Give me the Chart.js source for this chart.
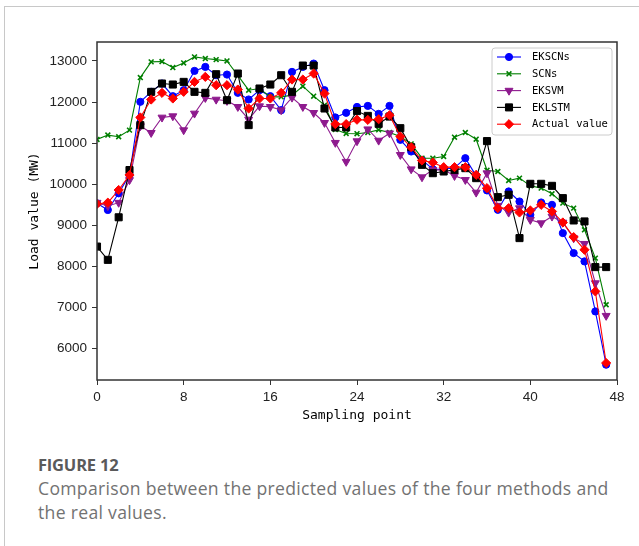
<!DOCTYPE html>
<html>
<head>
<meta charset="utf-8">
<script src="https://cdn.jsdelivr.net/npm/chart.js@4.4.0/dist/chart.umd.min.js"></script>
<style>
  html, body { margin: 0; padding: 0; background: #fff; }
  body { width: 639px; height: 546px; position: relative; overflow: hidden; }
  #card { position: absolute; left: 4px; top: 6px; width: 660px; height: 560px;
          border-left: 1px solid #c8c8c8; border-top: 1px solid #c8c8c8; }
  #cv { position: absolute; left: 0; top: 0; }
  #figlabel { position: absolute; left: 38px; top: 453px; font-family: "Open Sans", sans-serif;
              font-weight: 700; font-size: 16.5px; color: #5a5a5a; letter-spacing: -0.2px; }
  #caption { position: absolute; left: 38px; top: 476px; width: 596px; font-family: "Open Sans", sans-serif;
             font-size: 17.6px; line-height: 24px; letter-spacing: 0.3px; color: #727272; }
</style>
</head>
<body>
<div id="card"></div>
<canvas id="cv" width="639" height="440"></canvas>
<div id="figlabel">FIGURE 12</div>
<div id="caption">Comparison between the predicted values of the four methods and<br>the real values.</div>
<script>
// ---- data ----
const samplingPoints = [0,1,2,3,4,5,6,7,8,9,10,11,12,13,14,15,16,17,18,19,20,21,22,23,
                        24,25,26,27,28,29,30,31,32,33,34,35,36,37,38,39,40,41,42,43,44,45,46,47];
const ekscns = [9537,9375,9780,10225,12005,12248,12450,12142,12288,12757,12854,12652,
                12668,12223,12062,12288,12142,11803,12733,12854,12935,12288,11625,11738,
                11880,11906,11712,11906,11080,10797,10594,10367,10367,10400,10634,10205,
                9850,9379,9825,9581,9258,9557,9500,8812,8326,8124,6908,5612];
const scns = [11090,11196,11155,11317,12595,12976,12984,12838,12951,13097,13057,13032,
              13000,12650,12288,12329,12126,12126,12167,12385,12142,11924,11333,11236,
              11230,11258,11323,11258,11161,10983,10634,10634,10675,11145,11258,11096,
              10340,10310,10092,10149,9962,9906,9768,9541,9420,8893,8204,7070];
const eksvm = [9553,9472,9553,10104,11414,11252,11625,11657,11317,11722,12102,12061,
               12030,11884,11576,11900,11884,11803,12110,11884,11738,11495,11010,10549,
               11050,11339,11064,11242,10716,10367,10173,10350,10351,10205,10108,9800,
               10270,9480,9314,9420,9136,9055,9217,9071,8690,8553,7597,6803];
const eklstm = [8485,8162,9197,10346,11438,12248,12450,12426,12490,12248,12223,12676,
                12045,12693,11439,12329,12426,12652,12248,12887,12887,11843,11382,11382,
                11780,11663,11469,11647,11364,10902,10473,10270,10311,10351,10392,10149,
                11050,9687,9744,8691,10011,10011,9962,9663,9120,9096,7986,7986];
const actual = [9521,9553,9861,10225,11625,12061,12223,12086,12248,12490,12612,12409,
                12409,12304,11843,12086,12086,12223,12547,12547,12693,12207,11463,11463,
                11570,11566,11582,11679,11161,10902,10578,10529,10416,10416,10416,10230,
                9906,9420,9420,9314,9363,9500,9339,9071,8715,8407,7395,5653];
const xTicks = [0, 8, 16, 24, 32, 40, 48];
const yTicks = [6000, 7000, 8000, 9000, 10000, 11000, 12000, 13000];
const seriesNames = ['EKSCNs', 'SCNs', 'EKSVM', 'EKLSTM', 'Actual value'];

// ---- styles ----
const styles = [
  { color: '#0000ff', pointStyle: 'circle',   radius: 3.6, rotation: 0,   order: 4, bw: 1 },
  { color: '#007f00', pointStyle: 'crossRot', radius: 3.4, rotation: 0,   order: 3, bw: 1.6 },
  { color: '#8e1a8e', pointStyle: 'triangle', radius: 4.6, rotation: 180, order: 2, bw: 1 },
  { color: '#000000', pointStyle: 'rect',     radius: 5.0, rotation: 0,   order: 1, bw: 1 },
  { color: '#ff0000', pointStyle: 'rectRot',  radius: 4.6, rotation: 0,   order: 0, bw: 1 }
];
const allSeries = [ekscns, scns, eksvm, eklstm, actual];

const datasets = allSeries.map((vals, k) => ({
  label: seriesNames[k],
  data: samplingPoints.map((x, i) => ({ x: x, y: vals[i] })),
  borderColor: styles[k].color,
  backgroundColor: styles[k].color,
  borderWidth: 1.1,
  pointStyle: styles[k].pointStyle,
  pointRadius: styles[k].radius,
  pointRotation: styles[k].rotation,
  pointBorderWidth: styles[k].bw,
  pointBackgroundColor: styles[k].color,
  pointBorderColor: styles[k].color,
  tension: 0,
  order: styles[k].order
}));

function drawMarker(ctx, st, x, y) {
  ctx.save();
  ctx.fillStyle = st.color;
  ctx.strokeStyle = st.color;
  ctx.lineWidth = st.bw;
  const r = st.radius;
  ctx.beginPath();
  if (st.pointStyle === 'circle') {
    ctx.arc(x, y, r, 0, Math.PI * 2); ctx.fill(); ctx.stroke();
  } else if (st.pointStyle === 'crossRot') {
    const d = r * Math.SQRT1_2;
    ctx.moveTo(x - d, y - d); ctx.lineTo(x + d, y + d);
    ctx.moveTo(x - d, y + d); ctx.lineTo(x + d, y - d); ctx.stroke();
  } else if (st.pointStyle === 'triangle') {
    ctx.moveTo(x, y + r);
    ctx.lineTo(x - r * 0.866, y - r * 0.5);
    ctx.lineTo(x + r * 0.866, y - r * 0.5);
    ctx.closePath(); ctx.fill(); ctx.stroke();
  } else if (st.pointStyle === 'rect') {
    const s = r * Math.SQRT1_2;
    ctx.rect(x - s, y - s, 2 * s, 2 * s); ctx.fill(); ctx.stroke();
  } else if (st.pointStyle === 'rectRot') {
    ctx.moveTo(x, y - r); ctx.lineTo(x + r, y); ctx.lineTo(x, y + r); ctx.lineTo(x - r, y);
    ctx.closePath(); ctx.fill(); ctx.stroke();
  }
  ctx.restore();
}

const framePlugin = {
  id: 'frame',
  afterDatasetsDraw(chart) {
    const { ctx, chartArea: a } = chart;
    ctx.save();
    ctx.strokeStyle = '#333333';
    ctx.lineWidth = 1.5;
    ctx.strokeRect(a.left, a.top, a.right - a.left, a.bottom - a.top);
    ctx.restore();
  }
};

const legendPlugin = {
  id: 'mplLegend',
  afterDraw(chart) {
    const ctx = chart.ctx;
    const bx = 492, by = 48, bw = 120, bh = 87, rr = 3;
    ctx.save();
    ctx.beginPath();
    ctx.moveTo(bx + rr, by);
    ctx.arcTo(bx + bw, by, bx + bw, by + bh, rr);
    ctx.arcTo(bx + bw, by + bh, bx, by + bh, rr);
    ctx.arcTo(bx, by + bh, bx, by, rr);
    ctx.arcTo(bx, by, bx + bw, by, rr);
    ctx.closePath();
    ctx.fillStyle = 'rgba(255,255,255,0.85)';
    ctx.fill();
    ctx.strokeStyle = '#cccccc';
    ctx.lineWidth = 1;
    ctx.stroke();
    ctx.font = '10.5px "DejaVu Sans Mono", monospace';
    ctx.textBaseline = 'middle';
    ctx.textAlign = 'left';
    seriesNames.forEach((name, k) => {
      const y = 57 + k * 16.8;
      const st = styles[k];
      ctx.strokeStyle = st.color;
      ctx.lineWidth = 1.1;
      ctx.beginPath(); ctx.moveTo(497, y); ctx.lineTo(521, y); ctx.stroke();
      drawMarker(ctx, st, 509, y);
      ctx.fillStyle = '#000';
      ctx.fillText(name, 532, y + 0.5);
    });
    ctx.restore();
  }
};

new Chart(document.getElementById('cv'), {
  type: 'line',
  data: { datasets },
  options: {
    responsive: false,
    animation: false,
    devicePixelRatio: 1,
    layout: { padding: { left: 0, top: 42, right: 22, bottom: 0 } },
    plugins: { legend: { display: false }, tooltip: { enabled: false } },
    scales: {
      x: {
        type: 'linear', min: 0, max: 48,
        afterBuildTicks: s => { s.ticks = xTicks.map(v => ({ value: v })); },
        afterFit: s => { s.height = 60; },
        grid: { drawOnChartArea: false, drawTicks: true, tickLength: 5, color: '#333', lineWidth: 1 },
        border: { display: false },
        ticks: { font: { family: '"Liberation Sans", Arial, sans-serif', size: 13.5 }, color: '#222',
                 padding: 4, maxRotation: 0, autoSkip: false },
        title: { display: true, text: 'Sampling point', color: '#000',
                 font: { family: '"DejaVu Sans Mono", monospace', size: 13 }, padding: { top: 0, bottom: 17 } }
      },
      y: {
        type: 'linear', min: 5240, max: 13460,
        afterBuildTicks: s => { s.ticks = yTicks.map(v => ({ value: v })); },
        afterFit: s => { s.width = 97; },
        grid: { drawOnChartArea: false, drawTicks: true, tickLength: 5, color: '#333', lineWidth: 1 },
        border: { display: false },
        ticks: { font: { family: '"Liberation Sans", Arial, sans-serif', size: 13.5 }, color: '#222',
                 padding: 5, callback: v => String(v) },
        title: { display: true, text: 'Load value (MW)', color: '#000',
                 font: { family: '"DejaVu Sans Mono", monospace', size: 13 }, padding: { top: 27, bottom: 0 } }
      }
    }
  },
  plugins: [framePlugin, legendPlugin]
});
</script>
</body>
</html>
